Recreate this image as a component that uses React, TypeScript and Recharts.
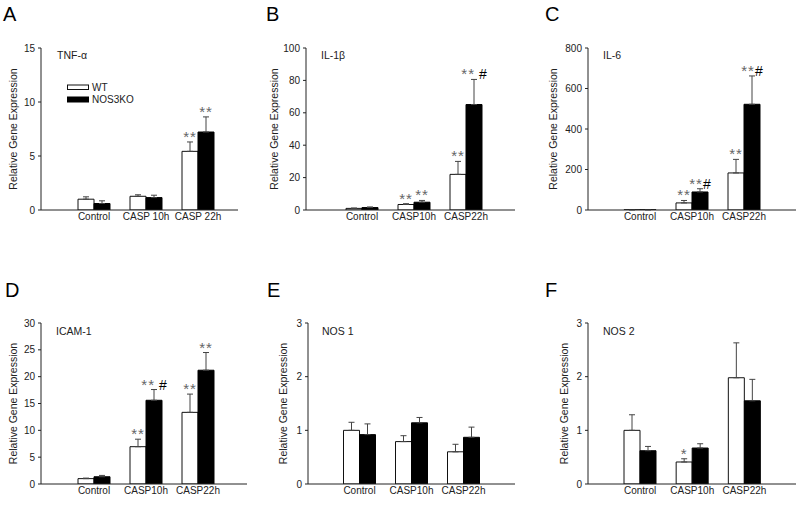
import React from "react";
import { BarChart, Bar, XAxis, YAxis, ErrorBar, LabelList } from "recharts";

const FONT = '"Liberation Sans", Arial, Helvetica, sans-serif';

// ---- categories / legend ----
const categoriesA = ["Control", "CASP 10h", "CASP 22h"];
const categoriesOther = ["Control", "CASP10h", "CASP22h"];
const seriesNames = ["WT", "NOS3KO"];
const yAxisTitle = "Relative Gene Expression";

// ---- A: TNF-alpha ----
const tnfWT = [1.0, 1.27, 5.43];
const tnfWTErr = [0.22, 0.14, 0.87];
const tnfKO = [0.6, 1.15, 7.22];
const tnfKOErr = [0.25, 0.22, 1.4];
const tnfWTSig = ["", "", "**"];
const tnfKOSig = ["", "", "**"];
const tnfTicks = [0, 5, 10, 15];

// ---- B: IL-1beta ----
const il1bWT = [1.0, 3.4, 22.0];
const il1bWTErr = [0.2, 0.5, 8.0];
const il1bKO = [1.5, 4.8, 65.1];
const il1bKOErr = [0.4, 1.1, 15.5];
const il1bWTSig = ["", "**", "**"];
const il1bKOSig = ["", "**", "** #"];
const il1bTicks = [0, 20, 40, 60, 80, 100];

// ---- C: IL-6 ----
const il6WT = [1, 35, 183];
const il6WTErr = [0.5, 12, 67];
const il6KO = [1, 89, 522];
const il6KOErr = [0.5, 16, 140];
const il6WTSig = ["", "**", "**"];
const il6KOSig = ["", "**#", "**#"];
const il6Ticks = [0, 200, 400, 600, 800];

// ---- D: ICAM-1 ----
const icamWT = [1.0, 6.95, 13.35];
const icamWTErr = [0.1, 1.4, 3.4];
const icamKO = [1.35, 15.6, 21.2];
const icamKOErr = [0.25, 2.0, 3.3];
const icamWTSig = ["", "**", "**"];
const icamKOSig = ["", "** #", "**"];
const icamTicks = [0, 5, 10, 15, 20, 25, 30];

// ---- E: NOS 1 ----
const nos1WT = [1.0, 0.79, 0.6];
const nos1WTErr = [0.15, 0.11, 0.14];
const nos1KO = [0.92, 1.14, 0.87];
const nos1KOErr = [0.2, 0.1, 0.19];
const nos1WTSig = ["", "", ""];
const nos1KOSig = ["", "", ""];
const nos1Ticks = [0, 1, 2, 3];

// ---- F: NOS 2 ----
const nos2WT = [1.0, 0.41, 1.98];
const nos2WTErr = [0.29, 0.06, 0.65];
const nos2KO = [0.62, 0.67, 1.55];
const nos2KOErr = [0.08, 0.08, 0.4];
const nos2WTSig = ["", "*", ""];
const nos2KOSig = ["", "", ""];
const nos2Ticks = [0, 1, 2, 3];

type Panel = {
  letter: string;
  title: string;
  cats: string[];
  wt: number[];
  wtErr: number[];
  ko: number[];
  koErr: number[];
  wtSig: string[];
  koSig: string[];
  ticks: number[];
  row: 0 | 1;
  axisX: number;
  right: number;
  padL: number;
  padR: number;
  yLabelX: number;
  letterX: number;
  titleX: number;
};

const panels: Panel[] = [
  { letter: "A", title: "TNF-\u03b1", cats: categoriesA, wt: tnfWT, wtErr: tnfWTErr, ko: tnfKO, koErr: tnfKOErr, wtSig: tnfWTSig, koSig: tnfKOSig, ticks: tnfTicks, row: 0, axisX: 41, right: 238, padL: 27, padR: 14, yLabelX: 13, letterX: 3, titleX: 57 },
  { letter: "B", title: "IL-1\u03b2", cats: categoriesOther, wt: il1bWT, wtErr: il1bWTErr, ko: il1bKO, koErr: il1bKOErr, wtSig: il1bWTSig, koSig: il1bKOSig, ticks: il1bTicks, row: 0, axisX: 306, right: 515, padL: 30, padR: 23, yLabelX: 274.5, letterX: 266, titleX: 321 },
  { letter: "C", title: "IL-6", cats: categoriesOther, wt: il6WT, wtErr: il6WTErr, ko: il6KO, koErr: il6KOErr, wtSig: il6WTSig, koSig: il6KOSig, ticks: il6Ticks, row: 0, axisX: 588, right: 796, padL: 26, padR: 26, yLabelX: 553, letterX: 545, titleX: 603 },
  { letter: "D", title: "ICAM-1", cats: categoriesOther, wt: icamWT, wtErr: icamWTErr, ko: icamKO, koErr: icamKOErr, wtSig: icamWTSig, koSig: icamKOSig, ticks: icamTicks, row: 1, axisX: 41, right: 247, padL: 27, padR: 23, yLabelX: 13, letterX: 5, titleX: 56 },
  { letter: "E", title: "NOS 1", cats: categoriesOther, wt: nos1WT, wtErr: nos1WTErr, ko: nos1KO, koErr: nos1KOErr, wtSig: nos1WTSig, koSig: nos1KOSig, ticks: nos1Ticks, row: 1, axisX: 308, right: 515, padL: 25.5, padR: 25.5, yLabelX: 283, letterX: 267, titleX: 322 },
  { letter: "F", title: "NOS 2", cats: categoriesOther, wt: nos2WT, wtErr: nos2WTErr, ko: nos2KO, koErr: nos2KOErr, wtSig: nos2WTSig, koSig: nos2KOSig, ticks: nos2Ticks, row: 1, axisX: 588, right: 796, padL: 26, padR: 25.5, yLabelX: 564, letterX: 545, titleX: 603 },
];

const YW = 60;

const makeSig = (rows: any[], valKey: string, errKey: string, sigKey: string) => (props: any) => {
  const vb = props.viewBox && props.viewBox.width != null ? props.viewBox : props;
  const { x, y, width, height } = vb;
  const idx = props.index;
  if (idx == null || !rows[idx]) return null;
  const row = rows[idx];
  const s: string = row[sigKey];
  if (!s) return null;
  const v = row[valKey];
  const e = row[errKey][1];
  const errTop = y - (height / v) * e;
  const stars = s.replace(/[^*]/g, "");
  const rest = s.slice(stars.length);
  return (
    <text x={x + width / 2} y={errTop} textAnchor="middle" fontSize={15} fontFamily={FONT}>
      <tspan fill="#666" letterSpacing={1}>{stars}</tspan>
      {rest ? <tspan fill="#000" fontSize={14}>{rest}</tspan> : null}
    </text>
  );
};

function PanelChart({ p }: { p: Panel }) {
  const rows = p.cats.map((c, i) => ({
    cat: c,
    wt: p.wt[i],
    wtErr: [0, p.wtErr[i]],
    ko: p.ko[i],
    koErr: [0, p.koErr[i]],
    wtSig: p.wtSig[i],
    koSig: p.koSig[i],
  }));
  const top = p.row === 0 ? 0 : 250;
  const plotTop = p.row === 0 ? 48 : 323;
  const plotBottom = p.row === 0 ? 210 : 484;
  const H = p.row === 0 ? 240 : 255;
  const xH = top + H - plotBottom;
  const chartLeft = p.axisX - YW;
  const W = p.right - chartLeft;
  const max = p.ticks[p.ticks.length - 1];
  const tickStyle = { fontSize: 10, fill: "#222", fontFamily: FONT };
  return (
    <div style={{ position: "absolute", left: chartLeft, top }}>
      <BarChart width={W} height={H} data={rows} margin={{ top: plotTop - top, right: 0, bottom: 0, left: 0 }} barGap={0}>
        <XAxis
          dataKey="cat"
          height={xH}
          padding={{ left: p.padL, right: p.padR }}
          tickLine={false}
          tickSize={0}
          tickMargin={3}
          axisLine={{ stroke: "#222" }}
          tick={tickStyle}
          interval={0}
        />
        <YAxis
          width={YW}
          domain={[0, max]}
          ticks={p.ticks}
          allowDataOverflow
          tickSize={3}
          tickMargin={3}
          axisLine={{ stroke: "#222" }}
          tickLine={{ stroke: "#222" }}
          tick={tickStyle}
          label={{
            value: yAxisTitle,
            angle: -90,
            position: "center",
            dx: p.yLabelX - (p.axisX - YW / 2),
            fontSize: 10.5,
            fill: "#222",
            fontFamily: FONT,
          }}
        />
        <Bar dataKey="wt" name={seriesNames[0]} fill="#fff" stroke="#111" strokeWidth={1} barSize={16} isAnimationActive={false}>
          <ErrorBar dataKey="wtErr" width={3} stroke="#444" strokeWidth={1} direction="y" />
          <LabelList dataKey="wtSig" content={makeSig(rows, "wt", "wtErr", "wtSig")} />
        </Bar>
        <Bar dataKey="ko" name={seriesNames[1]} fill="#000" stroke="#000" strokeWidth={1} barSize={16} isAnimationActive={false}>
          <ErrorBar dataKey="koErr" width={3} stroke="#444" strokeWidth={1} direction="y" />
          <LabelList dataKey="koSig" content={makeSig(rows, "ko", "koErr", "koSig")} />
        </Bar>
      </BarChart>
    </div>
  );
}

export default function App() {
  return (
    <div style={{ position: "absolute", left: 0, top: 0, width: 800, height: 505, background: "#fff", overflow: "hidden", fontFamily: FONT }}>
      {panels.map((p) => (
        <PanelChart key={p.letter} p={p} />
      ))}
      <svg width={800} height={505} style={{ position: "absolute", left: 0, top: 0, pointerEvents: "none" }}>
        {panels.map((p) => {
          const base = p.row === 0 ? 0 : 276;
          return (
            <g key={p.letter}>
              <text x={p.letterX} y={base + 21} fontSize={20} fontFamily={FONT} fill="#000">{p.letter}</text>
              <text x={p.titleX} y={base + 59} fontSize={10.5} fontFamily={FONT} fill="#222">{p.title}</text>
            </g>
          );
        })}
        <rect x={67.5} y={85} width={21} height={4.5} fill="#fff" stroke="#111" strokeWidth={1} />
        <text x={92} y={91} fontSize={10} fontFamily={FONT} fill="#222">{seriesNames[0]}</text>
        <rect x={67.5} y={97} width={21} height={5} fill="#000" stroke="#000" strokeWidth={1} />
        <text x={92} y={103} fontSize={10} fontFamily={FONT} fill="#222">{seriesNames[1]}</text>
      </svg>
    </div>
  );
}
